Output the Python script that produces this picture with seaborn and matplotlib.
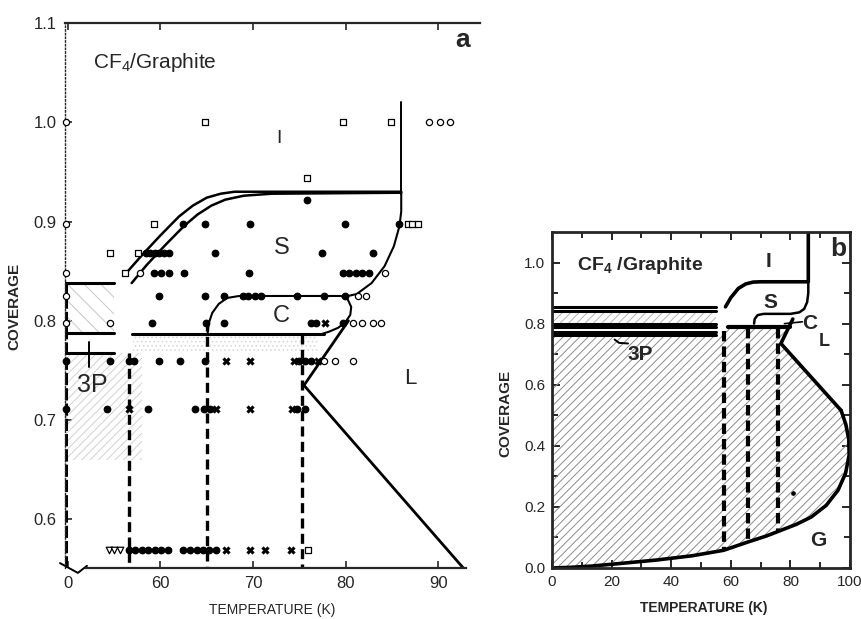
import numpy as np
import pandas as pd
import matplotlib
matplotlib.use("Agg")
import matplotlib.pyplot as plt
import seaborn as sns

# ---------------- panel a : boundaries (T in K, coverage) ----------------
a_is_up_T = [56.3, 58.0, 60.0, 62.0, 63.5, 65.0, 66.5, 68.0, 70.0, 86.0]
a_is_up_c = [0.848, 0.866, 0.886, 0.905, 0.916, 0.924, 0.928, 0.930, 0.930, 0.930]
a_is_lo_T = [56.9, 58.5, 60.5, 62.5, 64.0, 65.5, 67.0, 69.0, 72.0, 86.0]
a_is_lo_c = [0.838, 0.856, 0.876, 0.895, 0.907, 0.916, 0.922, 0.926, 0.928, 0.929]
a_il_T = [86.0, 86.0]
a_il_c = [0.928, 1.02]
a_sl_T = [86.0, 86.0, 85.8, 85.2, 84.2, 82.8, 81.2, 79.8]
a_sl_c = [0.930, 0.910, 0.895, 0.875, 0.855, 0.838, 0.827, 0.824]
a_cloop_T = [65.1, 65.2, 65.6, 66.3, 67.2, 68.5, 79.5, 80.2, 80.6, 80.5, 80.0, 79.2, 78.2, 77.5]
a_cloop_c = [0.787, 0.797, 0.808, 0.817, 0.823, 0.825, 0.825, 0.822, 0.814, 0.806, 0.799, 0.793, 0.789, 0.787]
a_flat_T = [56.9, 77.7]
a_flat_c = [0.787, 0.787]
a_L_T = [80.3, 75.5, 92.7]
a_L_c = [0.800, 0.735, 0.551]
a_left_levels = [0.838, 0.788, 0.768]   # short lines from the axis to 55 K
a_left_end = 55.0
a_triple_T = [56.6, 65.0, 75.3]
a_triple_top = [0.768, 0.800, 0.787]

# ---------------- panel a : measured points, rows of equal coverage ----------------
a_filled = {
    0.922: [75.8],
    0.898: [62.4, 64.8, 69.7, 79.9, 85.8],
    0.868: [58.4, 58.9, 59.4, 59.9, 60.4, 60.9, 65.9, 77.4, 82.9],
    0.848: [59.3, 60.1, 60.9, 62.5, 69.6, 79.7, 80.4, 81.1, 81.8, 82.5],
    0.825: [59.8, 64.8, 66.9, 68.9, 69.5, 70.2, 70.9, 74.7, 77.7, 79.9],
    0.798: [59.1, 64.9, 66.9, 76.3, 76.8, 79.7],
    0.760: [49.8, 54.6, 56.6, 57.1, 59.8, 62.1, 64.8, 75.0, 75.6, 76.3],
    0.711: [49.8, 54.2, 58.7, 63.7, 64.7, 65.4, 74.8, 75.6],
    0.569: [56.6, 57.3, 58.0, 58.7, 59.4, 60.1, 60.8, 62.4, 63.2, 63.9, 64.6, 65.3, 66.0],
}
a_cross = {
    0.798: [77.8],
    0.760: [67.1, 69.7, 74.4, 77.0],
    0.711: [56.6, 66.0, 69.7, 74.2],
    0.569: [67.1, 69.7, 71.3, 74.1],
}
a_square = {
    1.000: [64.8, 79.7, 84.9],
    0.944: [75.8],
    0.898: [59.3, 86.7, 87.2, 87.8],
    0.868: [54.6, 57.6],
    0.848: [56.2],
    0.569: [75.9],
}
a_circle = {
    1.000: [49.8, 89.0, 90.2, 91.3],
    0.898: [49.8],
    0.848: [49.8, 57.8, 84.2],
    0.825: [49.8, 81.3, 82.2],
    0.798: [49.8, 54.6, 80.8, 81.8, 82.9, 83.8],
    0.760: [77.7, 78.8, 80.8],
}
a_triangle = {0.569: [54.4, 55.0, 55.6]}

# ---------------- panel b ----------------
b_dome_T = [0, 6, 13, 22, 35, 47, 57.6, 65.7, 72, 77, 82, 87, 92, 96, 98.5, 99.7, 99.6, 98.6, 97.0]
b_dome_c = [0.0, 0.002, 0.006, 0.014, 0.026, 0.040, 0.058, 0.085, 0.105, 0.124, 0.143,
            0.167, 0.205, 0.255, 0.31, 0.37, 0.42, 0.47, 0.516]
b_lg_T = [97.0, 76.8, 80.8]
b_lg_c = [0.516, 0.735, 0.815]
b_is_T = [58.2, 60.0, 62.5, 65.0, 67.5, 70.0, 86.0, 86.0]
b_is_c = [0.855, 0.885, 0.915, 0.930, 0.936, 0.937, 0.937, 1.1]
b_sc_T = [86.0, 86.0, 85.6, 84.6, 83.0, 80.0, 71.0, 69.0, 68.0, 67.8]
b_sc_c = [0.937, 0.900, 0.870, 0.848, 0.837, 0.832, 0.832, 0.828, 0.815, 0.800]
b_flat_T = [59.0, 80.0]
b_flat_c = [0.789, 0.789]
b_left_levels = [0.853, 0.843, 0.800, 0.789, 0.772, 0.764]
b_left_end = 55.0
b_triple_T = [57.6, 65.6, 75.8]
b_triple_top = [0.775, 0.785, 0.785]
b_triple_bot = [0.058, 0.085, 0.122]
b_dot_T = [81.0]
b_dot_c = [0.245]


def curve(ax, T, c, lw=1.6, ls="-", color="black"):
    sns.lineplot(x=T, y=c, sort=False, estimator=None, ax=ax, color=color,
                 linewidth=lw, linestyle=ls, legend=False)


def rows(d):
    df = pd.DataFrame([(t, c) for c, ts in d.items() for t in ts], columns=["T", "cov"])
    return df


def points(ax, d, marker, face, s, lw=0.9):
    df = rows(d)
    sns.scatterplot(data=df, x="T", y="cov", marker=marker, s=s, color=face,
                    edgecolor="black", linewidth=lw, ax=ax, legend=False,
                    zorder=4, clip_on=False)


sns.set_style("ticks")
plt.rcParams["font.family"] = ["Liberation Sans", "DejaVu Sans"]
plt.rcParams["mathtext.default"] = "regular"
plt.rcParams["hatch.linewidth"] = 0.7

fig = plt.figure(figsize=(8.62, 6.19), dpi=100)
ax_a = fig.add_axes([0.0754, 0.0824, 0.4814, 0.8805])
ax_b = fig.add_axes([0.6404, 0.0824, 0.3457, 0.5428])

# ====================== panel a ======================
ax = ax_a
# light shading of the coexistence areas
ax.fill_between([49.7, a_left_end], 0.788, 0.838, facecolor="none",
                edgecolor="0.78", hatch="\\\\", linewidth=0)
ax.fill_between([49.7, 58.0], 0.66, 0.768, facecolor="none",
                edgecolor="0.82", hatch="////", linewidth=0)
ax.fill_between([57.0, 77.0], 0.768, 0.787, facecolor="none",
                edgecolor="0.85", hatch="....", linewidth=0)

curve(ax, a_is_up_T, a_is_up_c, lw=1.8)
curve(ax, a_is_lo_T, a_is_lo_c, lw=1.8)
curve(ax, a_il_T, a_il_c, lw=1.4)
curve(ax, a_sl_T, a_sl_c, lw=1.5)
curve(ax, a_cloop_T, a_cloop_c, lw=1.5)
curve(ax, a_flat_T, a_flat_c, lw=2.2)
curve(ax, a_L_T, a_L_c, lw=2.0)
for lev in a_left_levels:
    curve(ax, [49.7, a_left_end], [lev, lev], lw=2.2)
curve(ax, [52.3, 52.3], [0.753, 0.779], lw=1.4)
for t, top in zip(a_triple_T, a_triple_top):
    curve(ax, [t, t], [top, 0.551], lw=2.4, ls=(0, (3, 1.6)))
curve(ax, [49.8, 49.8], [0.551, 0.838], lw=2.2, ls=(0, (4, 1)))

points(ax, a_filled, "o", "black", 22)
points(ax, a_cross, "X", "black", 30, lw=0.3)
points(ax, a_square, "s", "white", 16)
points(ax, a_circle, "o", "white", 20)
points(ax, a_triangle, "v", "white", 22)

ax.text(52.7, 1.06, "CF$_4$/Graphite", fontsize=15, va="center")
ax.text(72.8, 0.984, "I", fontsize=14, ha="center", va="center")
ax.text(73.1, 0.873, "S", fontsize=17, ha="center", va="center")
ax.text(73.1, 0.805, "C", fontsize=17, ha="center", va="center")
ax.text(87.0, 0.742, "L", fontsize=16, ha="center", va="center")
ax.text(52.6, 0.735, "3P", fontsize=18, ha="center", va="center")
ax.text(92.6, 1.083, "a", fontsize=19, fontweight="bold", ha="center", va="center")

ax.set_xlim(49.7, 94.5)
ax.set_ylim(0.551, 1.1)
ax.set_xticks([50, 60, 70, 80, 90])
ax.set_xticklabels(["0", "60", "70", "80", "90"])
ax.set_yticks([0.6, 0.7, 0.8, 0.9, 1.0, 1.1])
ax.set_yticklabels(["0.6", "0.7", "0.8", "0.9", "1.0", "1.1"])
ax.tick_params(direction="in", length=5, width=1.2, labelsize=12, pad=6,
               top=True, labeltop=False)
ax.spines["right"].set_visible(False)
ax.spines["left"].set_linestyle(":")
ax.spines["left"].set_linewidth(1.0)
ax.spines["top"].set_linewidth(1.6)
ax.spines["bottom"].set_linewidth(1.6)
ax.spines["bottom"].set_bounds(52.0, 93.0)
# axis break mark
ax.plot([-0.012, 0.031, 0.053], [0.009, -0.009, 0.004], transform=ax.transAxes,
        color="black", lw=1.4, clip_on=False)
ax.set_xlabel("TEMPERATURE (K)", fontsize=10)
ax.set_ylabel("COVERAGE", fontsize=11, fontweight="bold")
ax.xaxis.set_label_coords(0.5, -0.064)
ax.yaxis.set_label_coords(-0.105, 0.48)

# ====================== panel b ======================
ax = ax_b
poly_T = [0.3, b_left_end + 3, 58.0, 79.0, 76.8, 97.0] + b_dome_T[::-1]
poly_c = [0.764, 0.764, 0.789, 0.789, 0.735, 0.516] + b_dome_c[::-1]
ax.fill(poly_T, poly_c, facecolor="none", edgecolor="0.55", hatch="////", linewidth=0)
ax.fill_between([0, b_left_end], 0.800, 0.843, facecolor="none",
                edgecolor="0.7", hatch="////", linewidth=0)

curve(ax, b_dome_T, b_dome_c, lw=2.6)
curve(ax, b_lg_T, b_lg_c, lw=2.6)
curve(ax, b_is_T, b_is_c, lw=2.6)
curve(ax, b_sc_T, b_sc_c, lw=1.8)
curve(ax, b_flat_T, b_flat_c, lw=3.0)
for lev in b_left_levels:
    curve(ax, [0, b_left_end], [lev, lev], lw=2.2)
for t, top, bot in zip(b_triple_T, b_triple_top, b_triple_bot):
    curve(ax, [t, t], [top, bot], lw=3.0, ls=(0, (2.5, 1.2)))
curve(ax, [21.0, 22.5, 25.5], [0.748, 0.737, 0.735], lw=1.4)
curve(ax, [84.0, 78.0], [0.806, 0.800], lw=1.2)
sns.scatterplot(x=b_dot_T, y=b_dot_c, color="black", s=14, ax=ax, legend=False)

ax.text(8.4, 0.99, "CF$_4$ /Graphite", fontsize=14, fontweight="bold", va="center")
ax.text(72.6, 1.005, "I", fontsize=15, fontweight="bold", ha="center", va="center")
ax.text(73.3, 0.87, "S", fontsize=15, fontweight="bold", ha="center", va="center")
ax.text(86.5, 0.80, "C", fontsize=15, fontweight="bold", ha="center", va="center")
ax.text(91.5, 0.74, "L", fontsize=13, fontweight="bold", ha="center", va="center")
ax.text(29.6, 0.70, "3P", fontsize=15, fontweight="bold", ha="center", va="center")
ax.text(89.5, 0.09, "G", fontsize=15, fontweight="bold", ha="center", va="center")
ax.text(96.0, 1.045, "b", fontsize=19, fontweight="bold", ha="center", va="center")

ax.set_xlim(0, 100)
ax.set_ylim(0, 1.1)
ax.set_xticks([0, 20, 40, 60, 80, 100])
ax.set_xticks(np.arange(10, 100, 20), minor=True)
ax.set_yticks([0.0, 0.2, 0.4, 0.6, 0.8, 1.0])
ax.set_yticklabels(["0.0", "0.2", "0.4", "0.6", "0.8", "1.0"])
ax.set_yticks(np.arange(0.1, 1.1, 0.2), minor=True)
ax.tick_params(which="both", direction="in", top=True, right=True, width=1.4,
               labelsize=11, pad=5)
ax.tick_params(which="major", length=6)
ax.tick_params(which="minor", length=4)
for s in ax.spines.values():
    s.set_linewidth(2.0)
ax.set_xlabel("TEMPERATURE (K)", fontsize=10, fontweight="bold")
ax.set_ylabel("COVERAGE", fontsize=11, fontweight="bold")
ax.xaxis.set_label_coords(0.51, -0.098)
ax.yaxis.set_label_coords(-0.134, 0.46)

fig.savefig("out.png", dpi=100)
